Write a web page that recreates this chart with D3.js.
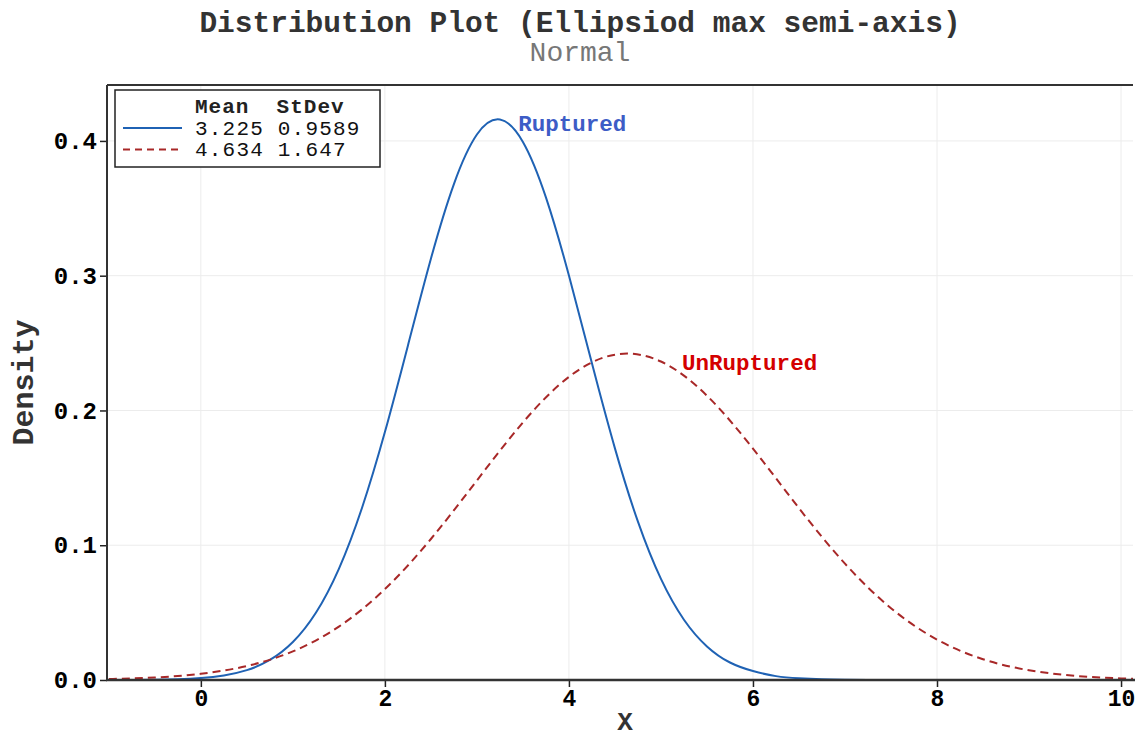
<!DOCTYPE html>
<html>
<head>
<meta charset="utf-8">
<script src="https://cdn.jsdelivr.net/npm/d3@7"></script>
<style>
  body { margin: 0; background: #fff; }
  text { font-family: "Liberation Mono", "Courier New", monospace; }
</style>
</head>
<body>
<div id="chart"></div>
<script>
"use strict";

// values
const xRuptured = [-1, -0.75, -0.5, -0.25, 0, 0.25, 0.5, 0.75, 1, 1.25, 1.5, 1.75, 2, 2.25, 2.5, 2.75, 3, 3.25, 3.5, 3.75, 4, 4.25, 4.5, 4.75, 5, 5.25, 5.5, 5.75, 6, 6.25, 6.5, 6.75, 7, 7.25, 7.5, 7.75, 8];
const yRuptured = [0.00003, 0.00008, 0.00022, 0.00059, 0.00146, 0.00338, 0.00733, 0.01487, 0.02818, 0.04988, 0.08249, 0.12746, 0.18397, 0.24811, 0.3126, 0.368, 0.40474, 0.4159, 0.39928, 0.35813, 0.30012, 0.23496, 0.17188, 0.11746, 0.075, 0.04474, 0.02494, 0.01298, 0.00664, 0.00287, 0.00122, 0.00048, 0.00018, 0.00006, 0.00002, 0.00001, 0];

const xUnruptured = [-1, -0.5, 0, 0.5, 1, 1.5, 2, 2.5, 3, 3.5, 4, 4.5, 5, 5.5, 6, 6.5, 7, 7.5, 8, 8.5, 9, 9.5, 10, 10.5];
const yUnruptured = [0.0007, 0.00188, 0.00463, 0.01038, 0.02124, 0.03962, 0.06742, 0.10463, 0.14807, 0.1911, 0.22492, 0.24142, 0.23631, 0.21095, 0.17172, 0.12749, 0.08632, 0.0533, 0.03001, 0.01541, 0.00722, 0.00308, 0.0012, 0.00043];

const seriesNames = ["Ruptured", "UnRuptured"];
const means = ["3.225", "4.634"];
const stdevs = ["0.9589", "1.647"];
const labelX = [3.45, 5.23];
const labelY = [0.413, 0.236];

const xTicks = [0, 2, 4, 6, 8, 10];
const yTicks = [0, 0.1, 0.2, 0.3, 0.4];

const width = 1135;
const height = 740;
const plot = { left: 107, right: 1133, top: 85, bottom: 680 };

const lineColors = ["#1f62b4", "#a82828"];
const labelColors = ["#3d5cc6", "#d40000"];

const svg = d3
  .select("#chart")
  .append("svg")
  .attr("width", width)
  .attr("height", height);

const x = d3.scaleLinear().domain([-1.02, 10.13]).range([plot.left, plot.right]);
const y = d3.scaleLinear().domain([0, 0.4415]).range([plot.bottom, plot.top]);

// grid
svg
  .append("g")
  .selectAll("line")
  .data(xTicks)
  .enter()
  .append("line")
  .attr("x1", (d) => x(d))
  .attr("x2", (d) => x(d))
  .attr("y1", plot.top)
  .attr("y2", plot.bottom)
  .style("stroke", "#ececec");

svg
  .append("g")
  .selectAll("line")
  .data(yTicks)
  .enter()
  .append("line")
  .attr("x1", plot.left)
  .attr("x2", plot.right)
  .attr("y1", (d) => y(d))
  .attr("y2", (d) => y(d))
  .style("stroke", "#ececec");

// axes
const xAxis = svg
  .append("g")
  .attr("transform", `translate(0,${plot.bottom})`)
  .call(d3.axisBottom(x).tickValues(xTicks).tickSize(7).tickPadding(3).tickFormat(d3.format("d")));
xAxis.select(".domain").remove();
xAxis.selectAll("line").style("stroke", "#222").style("stroke-width", 1.5);
xAxis
  .selectAll("text")
  .style("font-size", "23px")
  .style("font-weight", "bold")
  .style("fill", "#000");

const yAxis = svg
  .append("g")
  .attr("transform", `translate(${plot.left},0)`)
  .call(d3.axisLeft(y).tickValues(yTicks).tickSize(7).tickPadding(3).tickFormat(d3.format(".1f")));
yAxis.select(".domain").remove();
yAxis.selectAll("line").style("stroke", "#222").style("stroke-width", 1.5);
yAxis
  .selectAll("text")
  .style("font-size", "24px")
  .style("font-weight", "bold")
  .style("fill", "#000");

// frame
svg
  .append("line")
  .attr("x1", plot.left).attr("x2", plot.right)
  .attr("y1", plot.top).attr("y2", plot.top)
  .style("stroke", "#333").style("stroke-width", 2);
svg
  .append("line")
  .attr("x1", plot.left).attr("x2", plot.left)
  .attr("y1", plot.top).attr("y2", plot.bottom)
  .style("stroke", "#333").style("stroke-width", 2);

// curves
svg
  .append("clipPath")
  .attr("id", "clip")
  .append("rect")
  .attr("x", plot.left)
  .attr("y", plot.top)
  .attr("width", plot.right - plot.left)
  .attr("height", plot.bottom - plot.top);

const line = d3
  .line()
  .x((d) => x(d[0]))
  .y((d) => y(d[1]))
  .curve(d3.curveNatural);

const curves = [d3.zip(xRuptured, yRuptured), d3.zip(xUnruptured, yUnruptured)];

svg
  .append("g")
  .attr("clip-path", "url(#clip)")
  .selectAll("path")
  .data(curves)
  .enter()
  .append("path")
  .attr("d", line)
  .style("fill", "none")
  .style("stroke", (d, i) => lineColors[i])
  .style("stroke-width", 2)
  .style("stroke-dasharray", (d, i) => (i === 1 ? "8,5" : null));

// bottom axis line over the curves
svg
  .append("line")
  .attr("x1", plot.left - 1).attr("x2", plot.right + 2)
  .attr("y1", plot.bottom).attr("y2", plot.bottom)
  .style("stroke", "#333").style("stroke-width", 2.5);

// curve labels
svg
  .selectAll(".curve-label")
  .data(seriesNames)
  .enter()
  .append("text")
  .attr("class", "curve-label")
  .attr("x", (d, i) => x(labelX[i]))
  .attr("y", (d, i) => y(labelY[i]))
  .attr("dy", "0.35em")
  .style("font-size", "22.5px")
  .style("font-weight", "bold")
  .style("fill", (d, i) => labelColors[i])
  .text((d) => d);

// legend
const legend = svg.append("g");
legend
  .append("rect")
  .attr("x", 115)
  .attr("y", 90)
  .attr("width", 265)
  .attr("height", 77)
  .style("fill", "#fff")
  .style("stroke", "#222")
  .style("stroke-width", 1.5);

legend
  .append("text")
  .attr("x", 195)
  .attr("y", 106)
  .attr("dy", "0.32em")
  .attr("xml:space", "preserve")
  .style("font-size", "21px")
  .style("letter-spacing", "1px")
  .style("font-weight", "bold")
  .style("fill", "#222")
  .text("Mean  StDev");

const rows = legend
  .selectAll(".row")
  .data(seriesNames)
  .enter()
  .append("g")
  .attr("class", "row")
  .attr("transform", (d, i) => `translate(0,${128 + i * 21.5})`);

rows
  .append("line")
  .attr("x1", 123)
  .attr("x2", 182)
  .style("stroke", (d, i) => lineColors[i])
  .style("stroke-width", 2)
  .style("stroke-dasharray", (d, i) => (i === 1 ? "7,5" : null));

rows
  .append("text")
  .attr("x", 195)
  .attr("dy", "0.32em")
  .style("font-size", "21px")
  .style("letter-spacing", "1.2px")
  .style("fill", "#111")
  .text((d, i) => `${means[i]} ${stdevs[i]}`);

// titles
svg
  .append("text")
  .attr("x", 580)
  .attr("y", 32)
  .attr("text-anchor", "middle")
  .style("font-size", "29.5px")
  .style("font-weight", "bold")
  .style("fill", "#333")
  .text("Distribution Plot (Ellipsiod max semi-axis)");

svg
  .append("text")
  .attr("x", 580)
  .attr("y", 61)
  .attr("text-anchor", "middle")
  .style("font-size", "28px")
  .style("fill", "#777")
  .text("Normal");

svg
  .append("text")
  .attr("x", 625)
  .attr("y", 730)
  .attr("text-anchor", "middle")
  .style("font-size", "26px")
  .style("font-weight", "bold")
  .style("fill", "#333")
  .text("X");

svg
  .append("text")
  .attr("transform", `translate(33,${(plot.top + plot.bottom) / 2}) rotate(-90)`)
  .attr("text-anchor", "middle")
  .style("font-size", "30px")
  .style("font-weight", "bold")
  .style("fill", "#333")
  .text("Density");
</script>
</body>
</html>
